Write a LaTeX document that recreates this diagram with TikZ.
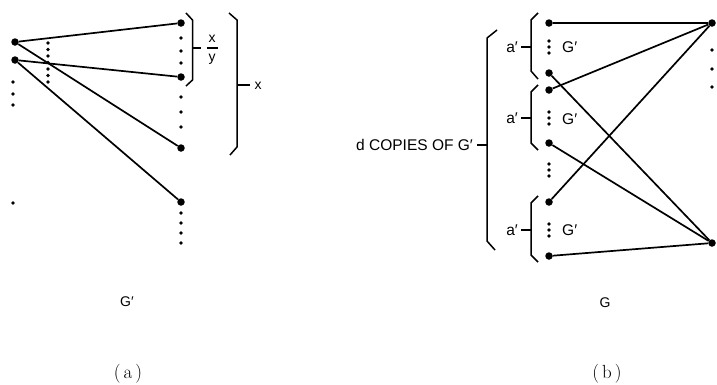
\documentclass[tikz,border=0pt]{standalone}
\usepackage{fontspec}
\newfontfamily\labfont{Liberation Sans}
\begin{document}
\begin{tikzpicture}[x=1pt,y=-1pt,
  vtx/.style={circle,fill=black,inner sep=0pt,minimum size=7.5pt},
  edge/.style={line width=1.7pt},
  bracepath/.style={line width=1.5pt,line join=round},
  lbl/.style={font=\labfont\fontsize{15.5}{17}\selectfont,inner sep=0pt},
  lbls/.style={font=\labfont\fontsize{14}{16}\selectfont,inner sep=0pt},
  captext/.style={font=\fontsize{19}{21}\selectfont,inner sep=0pt},
]
\useasboundingbox (0,0) rectangle (717,384);
\newcommand\dotat[2]{\fill (#1,#2) circle (1.8pt);}

% ---------------- (a) ----------------
\node[vtx] (L1) at (15,42) {};
\node[vtx] (L2) at (15,60) {};
\node[vtx] (R1) at (181,23) {};
\node[vtx] (R2) at (181,77) {};
\node[vtx] (R3) at (181,148) {};
\node[vtx] (R4) at (181,202) {};
\draw[edge] (L1) -- (R1);
\draw[edge] (L1) -- (R3);
\draw[edge] (L2) -- (R2);
\draw[edge] (L2) -- (R4);
% dots
\foreach \yy in {82,94,105,203} {\dotat{13}{\yy}}
\foreach \yy in {43,49.5,56,62.5,69,75.5,82} {\dotat{48}{\yy}}
\foreach \yy in {38,51,63,97,112,127,213,223,233,243} {\dotat{181}{\yy}}
% braces
\draw[bracepath] (186,13) -- (192.5,20) -- (192.5,80) -- (186,86);
\draw[bracepath] (192.5,48) -- (201,48);
\node[lbls] (fx) at (212,39) {x};
\node[lbls] (fy) at (212,59) {y};
\draw[line width=1.2pt] (206.5,48) -- (217.5,48);
\draw[bracepath] (229,13) -- (237,20) -- (237,147) -- (230,155);
\draw[bracepath] (237,85) -- (250,85);
\node[lbls] (bx) at (258,86) {x};
\node[font=\labfont\fontsize{14}{16}\selectfont,inner sep=0pt] (capGp) at (127,302) {G′};
\node[captext] (capa) at (128,374) {(\kern3pt a\kern3pt)};

% ---------------- (b) ----------------
\node[vtx] (A1) at (549,23) {};
\node[vtx] (A2) at (549,73) {};
\node[vtx] (A3) at (549,90) {};
\node[vtx] (A4) at (549,143) {};
\node[vtx] (A5) at (549,202) {};
\node[vtx] (A6) at (549,256) {};
\node[vtx] (T) at (712,23) {};
\node[vtx] (B) at (712,243) {};
\draw[edge] (A1) -- (T);
\draw[edge] (A2) -- (B);
\draw[edge] (A3) -- (T);
\draw[edge] (A4) -- (B);
\draw[edge] (A5) -- (T);
\draw[edge] (A6) -- (B);
\foreach \yy in {41,47,53,112,118,124,164,170,176,224,230,236} {\dotat{549}{\yy}}
\foreach \yy in {50,69,87} {\dotat{712}{\yy}}
\node[lbl,anchor=west] (g1) at (562,47) {G′};
\node[lbl,anchor=west] (g2) at (562,119) {G′};
\node[lbl,anchor=west] (g3) at (562,230) {G′};
% group braces
\draw[bracepath] (538,13) -- (531,20) -- (531,71) -- (538,79);
\draw[bracepath] (531,47) -- (521,47);
\node[lbl,anchor=east] (a1) at (518,47) {a′};
\draw[bracepath] (538,85) -- (531,92) -- (531,143) -- (538,150);
\draw[bracepath] (531,118) -- (521,118);
\node[lbl,anchor=east] (a2) at (518,118) {a′};
\draw[bracepath] (538,196) -- (531,203) -- (531,255) -- (538,262);
\draw[bracepath] (531,230) -- (521,230);
\node[lbl,anchor=east] (a3) at (518,230) {a′};
% big brace
\draw[bracepath] (497,30) -- (487,38) -- (487,241) -- (495,250);
\draw[bracepath] (487,145) -- (477,145);
\node[lbl,anchor=east] (dc) at (473,145) {d COPIES OF G′};
\node[font=\labfont\fontsize{14}{16}\selectfont,inner sep=0pt] (capG) at (605,303) {G};
\node[captext] (capb) at (607,374) {(\kern3pt b\kern3pt)};
\end{tikzpicture}
\end{document}
